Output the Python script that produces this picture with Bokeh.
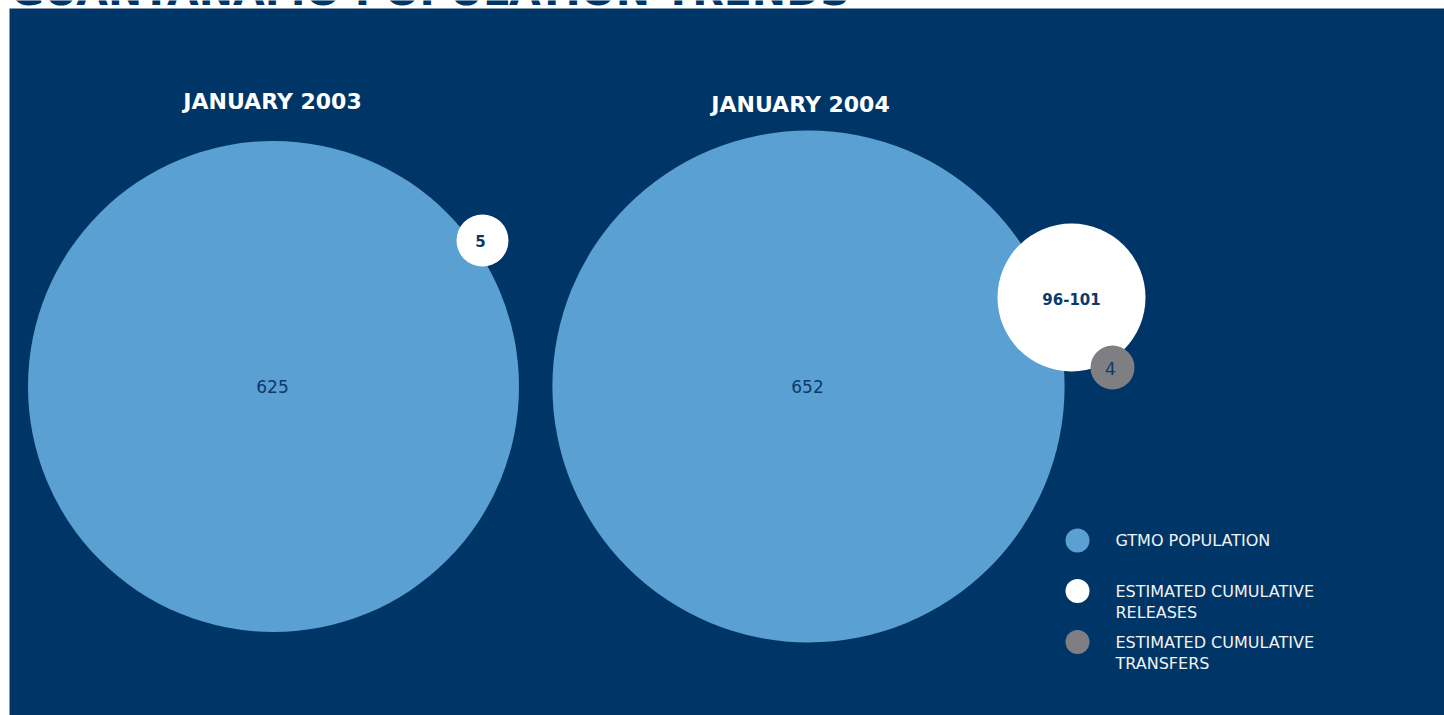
from bokeh.plotting import figure
from bokeh.models import Range1d, ColumnDataSource
from bokeh.core.properties import value
from bokeh.embed import file_html
from bokeh.resources import INLINE

# ---- data ----
periods = ["JANUARY 2003", "JANUARY 2004"]
population = [625, 652]
releases = ["5", "96-101"]
transfers = ["", "4"]
legend_labels = ["GTMO POPULATION", "ESTIMATED CUMULATIVE\nRELEASES", "ESTIMATED CUMULATIVE\nTRANSFERS"]
chart_title = "GUANTANAMO POPULATION TRENDS"

# ---- style / layout ----
BG = "#003667"
POP = "#5aa0d3"
REL = "#ffffff"
TRA = "#7f7f83"
LABEL = "#0b3a6a"
FONT = "DejaVu Sans"

W, H = 1444, 715
scale = 245.5 / 625.0          # radius per detainee for population circles
pop_x = [273, 808]
pop_y = [386, 386]
rel_x = [482, 1071]
rel_y = [240, 297]
rel_r = [26, 74]
tra_x = [1112]
tra_y = [367]
tra_r = [22]

p = figure(width=W, height=H, output_backend="svg", toolbar_location=None,
           x_range=Range1d(0, W), y_range=Range1d(H, 0),
           min_border=0, background_fill_color="#ffffff", border_fill_color="#ffffff")
p.axis.visible = False
p.grid.visible = False
p.outline_line_color = None

# clipped chart title at very top (dark on white)
p.text(x=[10], y=[14], text=[chart_title], text_align="left", text_baseline="bottom",
       text_font=value(FONT), text_font_size="41px", text_font_style="bold", text_color=BG)

# dark panel
p.quad(left=[9], right=[W], top=[8], bottom=[H], fill_color=BG, line_color=None)

# population circles
pop_src = ColumnDataSource(dict(x=pop_x, y=pop_y, r=[v * scale for v in population]))
p.circle(x="x", y="y", radius="r", source=pop_src, fill_color=POP, line_color=None)

# release circles
rel_src = ColumnDataSource(dict(x=rel_x, y=rel_y, r=rel_r))
p.circle(x="x", y="y", radius="r", source=rel_src, fill_color=REL, line_color=None)

# transfer circle (only second period)
tra_src = ColumnDataSource(dict(x=tra_x, y=tra_y, r=tra_r))
p.circle(x="x", y="y", radius="r", source=tra_src, fill_color=TRA, line_color=None)

# value labels
p.text(x=[v - 1 for v in pop_x], y=pop_y, text=[str(v) for v in population],
       text_align="center", text_baseline="middle",
       text_font=value(FONT), text_font_size="17px", text_color=LABEL)
p.text(x=[rel_x[0] - 2, rel_x[1]], y=[rel_y[0], rel_y[1] + 1], text=releases,
       text_align="center", text_baseline="middle",
       text_font=value(FONT), text_font_size="15px", text_font_style="bold", text_color=LABEL)
p.text(x=[tra_x[0] - 2], y=[tra_y[0] + 1], text=[t for t in transfers if t],
       text_align="center", text_baseline="middle",
       text_font=value(FONT), text_font_size="17px", text_color=LABEL)

# period headings
p.text(x=[272, 800], y=[101, 104], text=periods, text_align="center", text_baseline="middle",
       text_font=value(FONT), text_font_size="22px", text_font_style="bold", text_color="#ffffff")

# legend
leg_y = [540, 590.5, 641.5]
p.circle(x=[1077] * 3, y=leg_y, radius=12, fill_color=[POP, REL, TRA], line_color=None)
lx, ly, lt = [], [], []
for y0, lab in zip(leg_y, legend_labels):
    for i, line in enumerate(lab.split("\n")):
        lx.append(1115)
        ly.append(y0 + i * 21.5)
        lt.append(line)
p.text(x=lx, y=ly, text=lt, text_align="left", text_baseline="middle",
       text_font=value(FONT), text_font_size="16px", text_color="#f2f2f2")

open("out.html", "w").write(file_html(p, INLINE))
